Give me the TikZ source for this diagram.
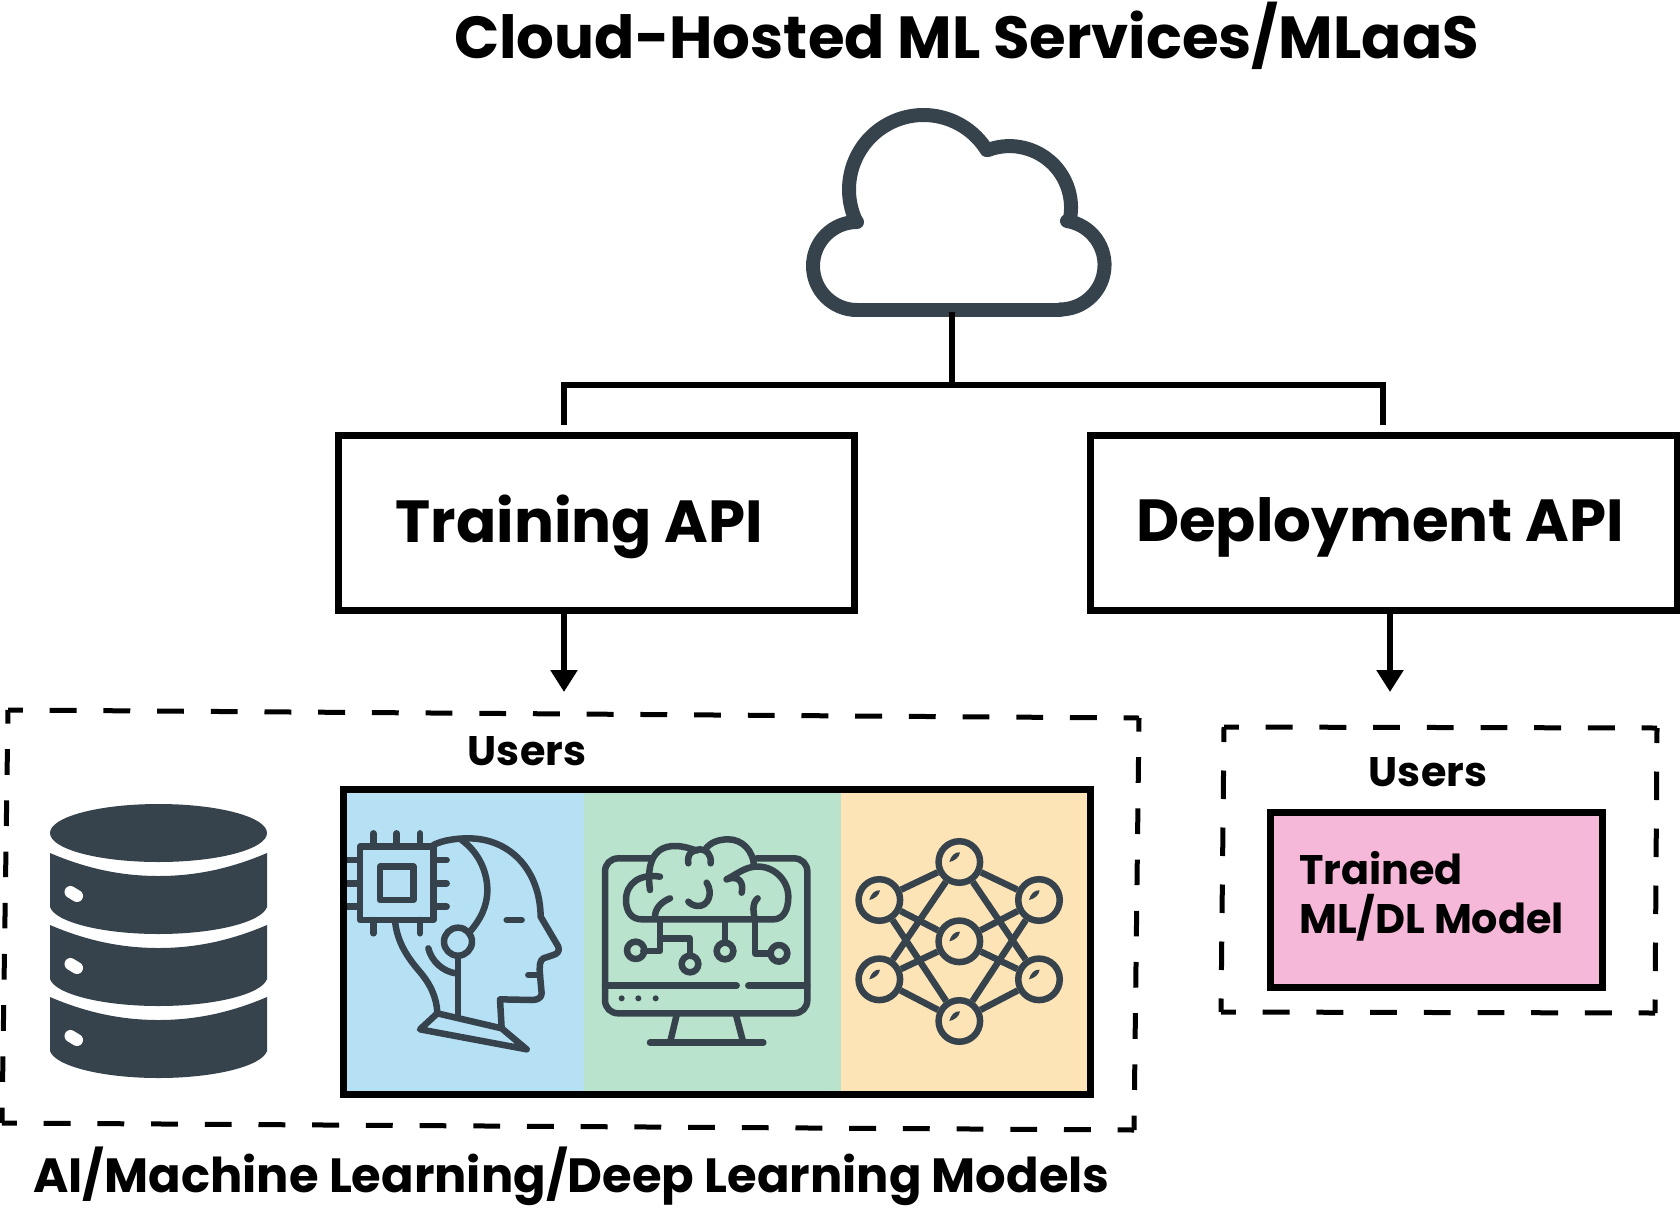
\documentclass[tikz,border=0pt]{standalone}
\usepackage{fontspec}
\setmainfont{Poppins}
\usetikzlibrary{arrows.meta,calc}
\definecolor{ink}{HTML}{36434C}
\definecolor{panelblue}{HTML}{B6E1F5}
\definecolor{panelgreen}{HTML}{B9E3CD}
\definecolor{panelyellow}{HTML}{FCE4B6}
\definecolor{panelpink}{HTML}{F6B8D8}
\tikzset{
  apibox/.style={draw=black,line width=7pt,fill=white,inner sep=0pt,outer sep=0pt},
  conn/.style={draw=black,line width=6.5pt},
  arrowconn/.style={conn,-{Triangle[width=26pt,length=22pt]}},
  dashh/.style={draw=black,line width=5pt,dash pattern=on 26.85pt off 26.85pt,dash phase=12pt},
  dashv/.style={draw=black,line width=5pt,dash pattern=on 25.6pt off 25.6pt,dash phase=12pt},
  dashw/.style={draw=black,line width=5pt,dash pattern=on 28.5pt off 28.5pt,dash phase=13.5pt},
  icon/.style={draw=ink,line width=6.5pt,line cap=round,line join=round},
  zoomed/.style={x=0.33333pt,y=-0.33333pt},
  nnnode/.style={circle,draw=ink,line width=6.5pt,minimum size=41.5pt,inner sep=0pt},
  title/.style={font=\bfseries\fontsize{59.4}{64}\selectfont,inner sep=0pt},
  apilabel/.style={font=\bfseries\fontsize{59.4}{64}\selectfont,inner sep=0pt},
  small/.style={font=\bfseries\fontsize{41.3}{50}\selectfont,inner sep=0pt},
  caption/.style={font=\bfseries\fontsize{48}{52}\selectfont,inner sep=0pt},
}
\begin{document}
\begin{tikzpicture}[x=1pt,y=-1pt]
\useasboundingbox (0,0) rectangle (1680,1223);
% title
\node[title] (ttl) at (966.5,36) {Cloud-Hosted ML Services/MLaaS};
% cloud
\begin{scope}[icon,line width=14pt]
\draw (857,310) -- (1060,310);
\draw (857,310) arc[start angle=90,end angle=270,radius=44];
\draw (856,221) arc[start angle=155,end angle=328,radius=74.5];
\draw (988,150) arc[start angle=249.5,end angle=371,radius=61.5];
\draw (1067,221) arc[start angle=279,end angle=450,radius=44.5];
\end{scope}
\coordinate (cloudb) at (952,312);
\coordinate (junction) at (952,385);
\coordinate (ltop) at (564,425);
\coordinate (rtop) at (1383,425);
% API boxes
\node[apibox,minimum width=516pt,minimum height=175pt] (train) at (596,522.5) {};
\node[apibox,minimum width=587pt,minimum height=175pt] (deploy) at (1383.5,522.5) {};
\node[apilabel] (trainlab) at (579.5,527) {Training API};
\node[apilabel] (deploylab) at (1380,527) {Deployment API};
% connectors
\draw[conn] (cloudb) -- (junction);
\draw[conn,line join=miter] (ltop) -- (ltop |- junction) -- (rtop |- junction) -- (rtop);
\coordinate (lend) at (564,692);
\coordinate (rend) at (1390,692);
\draw[arrowconn] (lend |- train.south) -- (lend);
\draw[arrowconn] (rend |- deploy.south) -- (rend);
% left dashed frame
\coordinate (dtl) at (8,710);
\coordinate (dtr) at (1139,718);
\coordinate (dbl) at (2,1123);
\coordinate (dbr) at (1134,1130);
\draw[dashh] (dtl) -- (dtr);
\draw[dashv] (dtl) -- (dbl);
\draw[dashh] (dbl) -- (dbr);
\draw[dashv] (dtr) -- (dbr);
% right dashed frame
\coordinate (etl) at (1224,727);
\coordinate (etr) at (1657,728);
\coordinate (ebl) at (1221,1012);
\coordinate (ebr) at (1655,1013);
\draw[dashh] (etl) -- (etr);
\draw[dashw] (etl) -- (ebl);
\draw[dashh] (ebl) -- (ebr);
\draw[dashw] (etr) -- (ebr);
% labels
\node[small] (u1) at (527,751) {Users};
\node[small] (u2) at (1428,772) {Users};
\node[caption] (cap) at (571.5,1176) {AI/Machine Learning/Deep Learning Models};
% trained model
\node[draw=black,line width=7pt,fill=panelpink,minimum width=332pt,minimum height=175pt,inner sep=0pt] (model) at (1436,899.5) {};
\node[small,anchor=west] (m1) at (1299,868) {Trained};
\node[small,anchor=west] (m2) at (1299,918) {ML/DL Model};
% database
\fill[ink] (158.5,833) ellipse[x radius=108.5,y radius=29];
\foreach \dy in {0,72,144}{
  \fill[ink,shift={(0,\dy)}] (50,853) .. controls (85,868) and (120,876) .. (158.5,876) .. controls (197,876) and (232,868) .. (267,853) -- (267,907) .. controls (262,922) and (215,934) .. (158.5,934) .. controls (102,934) and (55,922) .. (50,907) -- cycle;
  \draw[white,line width=12pt,line cap=round,shift={(0,\dy)}] (70.5,892) -- (77,896);
}
% panels
\fill[panelblue] (343,789) rectangle (584,1094);
\fill[panelgreen] (584,789) rectangle (841,1094);
\fill[panelyellow] (841,789) rectangle (1090,1094);
% head and monitor icons
\begin{scope}[shift={(330,770)},zoomed]
\begin{scope}[icon]
\draw (90,230) rectangle (310,450);
\draw (150,290) rectangle (250,390);
\foreach \p in {130,200,270} \draw (\p,190) -- (\p,230);
\foreach \p in {130,270} \draw (\p,450) -- (\p,490);
\foreach \p in {270,340,410} {\draw[line cap=butt] (48,\p) -- (90,\p); \draw (310,\p) -- (350,\p);}
\draw (310,225) .. controls (340,210) and (380,205) .. (415,205) .. controls (540,205) and (630,300) .. (632,440)
  -- (685,530) .. controls (690,545) and (680,552) .. (670,555) -- (640,565) .. controls (628,572) and (628,590) .. (630,615)
  -- (635,670) .. controls (635,685) and (620,690) .. (605,690) -- (510,688) -- (515,775);
\draw (195,450) .. controls (200,520) and (240,570) .. (265,600) .. controls (300,640) and (320,680) .. (322,730);
\draw (322,730) -- (515,775) -- (590,838) -- (270,778) -- cycle;
\draw (395,210) .. controls (450,250) and (472,310) .. (472,360) .. controls (472,410) and (450,450) .. (420,485);
\draw (384,515) circle[radius=42];
\draw (384,560) -- (384,740);
\draw (295,535) .. controls (305,575) and (340,605) .. (378,610);
\draw (530,450) -- (575,450);
\draw (595,615) -- (630,615);
% monitor
\draw (965,265) -- (865,265) .. controls (842,265) and (825,282) .. (825,305) -- (825,690) .. controls (825,713) and (842,730) .. (865,730) -- (1392,730) .. controls (1415,730) and (1432,713) .. (1432,690) -- (1432,305) .. controls (1432,282) and (1415,265) .. (1392,265) -- (1280,265);
\draw (825,647) -- (1220,647);
\draw (1255,647) -- (1432,647);
\foreach \p in {875,925,977} \fill[ink] (\p,685) circle[radius=9];
\draw (1040,735) -- (1020,818);
\draw (1218,735) -- (1240,818);
\draw (960,818) -- (1300,818);
% brain
\draw (990,320) .. controls (930,310) and (888,340) .. (888,390) .. controls (888,425) and (905,448) .. (935,448) -- (1330,448) .. controls (1360,448) and (1375,420) .. (1375,380) .. controls (1375,330) and (1330,285) .. (1275,290) .. controls (1245,292) and (1220,312) .. (1190,328);
\draw (1190,328) .. controls (1225,315) and (1242,335) .. (1235,368);
\draw (960,360) .. controls (950,290) and (965,228) .. (1035,228) .. controls (1060,228) and (1080,235) .. (1100,242);
\draw (1075,280) .. controls (1070,250) and (1090,238) .. (1110,238) .. controls (1130,238) and (1145,255) .. (1142,280);
\draw (1125,240) .. controls (1140,215) and (1170,208) .. (1195,208) .. controls (1235,208) and (1270,240) .. (1272,290);
\draw (975,440) .. controls (975,415) and (995,395) .. (1020,385);
\draw (1130,338) .. controls (1150,370) and (1135,408) .. (1105,408) .. controls (1090,408) and (1080,400) .. (1075,395);
\draw (1283,385) .. controls (1265,400) and (1270,430) .. (1275,448);
\draw (990,455) -- (990,543) -- (940,543);
\draw (917,541) circle[radius=26];
\draw (990,505) -- (1080,505) -- (1080,555);
\draw (1080,582) circle[radius=25];
\draw (1185,455) -- (1185,515);
\draw (1185,543) circle[radius=25];
\draw (1275,448) -- (1275,550) -- (1320,550);
\draw (1347,550) circle[radius=25];
\end{scope}
\end{scope}
% neural network icon
\begin{scope}[shift={(780,770)},zoomed]
\node[nnnode] (na) at (538,276) {};
\node[nnnode] (nb) at (298,390) {};
\node[nnnode] (nc) at (777,390) {};
\node[nnnode] (nd) at (538,514) {};
\node[nnnode] (ne) at (298,628) {};
\node[nnnode] (nf) at (777,628) {};
\node[nnnode] (ng) at (538,753) {};
\foreach \s/\t in {na/nb,na/nc,na/ne,na/nf,nd/nb,nd/nc,nd/ne,nd/nf,ng/nb,ng/nc,ng/ne,ng/nf}
  \draw[draw=ink,line width=6.5pt] (\s) -- (\t);
\foreach \s in {na,nb,nc,nd,ne,nf,ng}
  \fill[ink] ($(\s)+(-30,0)$) .. controls +(4,-18) and +(-15,-2) .. ($(\s)+(2,-29)$) .. controls +(-2,15) and +(17,-4) .. ($(\s)+(-30,0)$) -- cycle;
\end{scope}
% frame
\draw[draw=black,line width=7pt] (343,789) rectangle (1090,1094);
\end{tikzpicture}
\end{document}
